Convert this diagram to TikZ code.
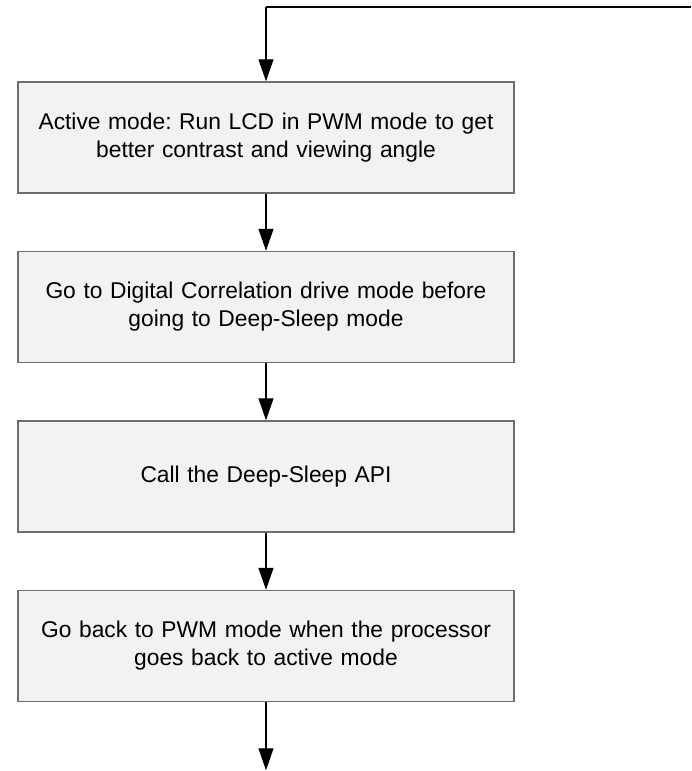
\documentclass[tikz,border=0pt]{standalone}
\usepackage{fontspec}
\setmainfont{Liberation Sans}
\usetikzlibrary{arrows.meta,positioning}
\definecolor{boxfill}{HTML}{F2F2F2}
\definecolor{boxline}{HTML}{6E6E6E}
\tikzset{
  every picture/.style={line join=miter, >={Triangle[length=11pt,width=7.5pt]}},
  stepbox/.style={draw=boxline, line width=0.75pt, fill=boxfill, minimum width=248pt,
    minimum height=55.5pt, text width=238pt, align=center, inner sep=0pt,
    font=\fontsize{11.4pt}{14pt}\selectfont\frenchspacing},
  flow/.style={->, line width=0.65pt},
}

\begin{document}
\begin{tikzpicture}[node distance=28.5pt]
\useasboundingbox (0,0) rectangle (345.5pt,-385.5pt);
\node[stepbox] (active) at (133pt,-68.75pt) {Active mode: Run LCD in PWM mode to get\\better contrast and viewing angle};
\node[stepbox,below=of active] (digital) {Go to Digital Correlation drive mode before\\going to Deep-Sleep mode};
\node[stepbox,below=of digital] (sleep) {Call the Deep-Sleep API};
\node[stepbox,below=of sleep] (pwm) {Go back to PWM mode when the processor\\goes back to active mode};
\coordinate[above=37.25pt of active.north] (loop);
\coordinate (loopin) at (loop -| 345.5pt,0);
\coordinate[below=34pt of pwm.south] (exit);
\draw[line width=1pt] (loopin) -- (loop);
\draw[flow] (loop) -- (active);
\draw[flow] (active) -- (digital);
\draw[flow] (digital) -- (sleep);
\draw[flow] (sleep) -- (pwm);
\draw[flow] (pwm) -- (exit);
\end{tikzpicture}
\end{document}
